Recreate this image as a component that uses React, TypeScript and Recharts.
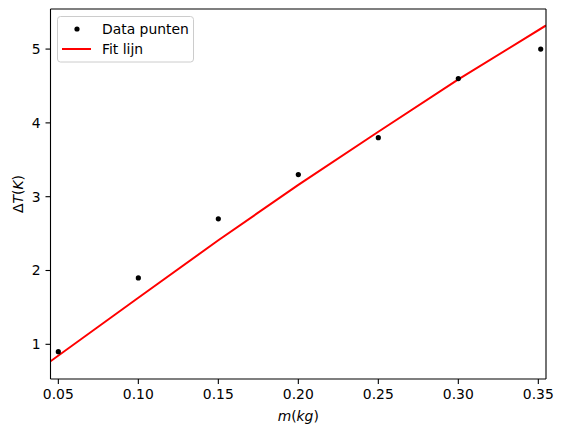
import React from "react";
import {
  ComposedChart,
  Legend,
  Line,
  ReferenceLine,
  Scatter,
  XAxis,
  YAxis,
} from "recharts";

// meetpunten
const massKg = [0.05, 0.1, 0.15, 0.2, 0.25, 0.3, 0.3515];
const deltaT = [0.9, 1.9, 2.7, 3.3, 3.8, 4.6, 5.0];

const fitMass = [0.0451, 0.1, 0.15, 0.2, 0.25, 0.3, 0.3548];
const fitDeltaT = [0.77, 1.63, 2.41, 3.16, 3.88, 4.59, 5.32];

const xTicks = [0.05, 0.1, 0.15, 0.2, 0.25, 0.3, 0.35];
const yTicks = [1, 2, 3, 4, 5];

const seriesNames = ["Data punten", "Fit lijn"];

const xDomain: [number, number] = [0.0451, 0.3548];
const yDomain: [number, number] = [0.53, 5.543];

const FONT = "'DejaVu Sans', sans-serif";

const points = massKg.map((x, i) => ({ x, y: deltaT[i] }));
const fit = fitMass.map((x, i) => ({ x, y: fitDeltaT[i] }));

const tickStyle = { fill: "#000", fontSize: 13.9, fontFamily: FONT };

function Dot(props: any) {
  return <circle cx={props.cx} cy={props.cy} r={2.6} fill="#000" />;
}

function LegendBox() {
  return (
    <svg width={137} height={47} style={{ display: "block" }}>
      <rect
        x={0.5}
        y={0.5}
        width={136}
        height={45.5}
        rx={3}
        fill="#fff"
        fillOpacity={0.8}
        stroke="#cccccc"
      />
      <circle cx={20} cy={13} r={2.6} fill="#000" />
      <text x={45} y={18.3} fontFamily={FONT} fontSize={13.9} fill="#000">
        {seriesNames[0]}
      </text>
      <line x1={5} y1={33} x2={34} y2={33} stroke="#ff0000" strokeWidth={2} />
      <text x={45} y={38.3} fontFamily={FONT} fontSize={13.9} fill="#000">
        {seriesNames[1]}
      </text>
    </svg>
  );
}

function XLabel(props: any) {
  const vb = props.viewBox || {};
  return (
    <text
      x={vb.x + vb.width / 2}
      y={vb.y + 42}
      textAnchor="middle"
      fontFamily={FONT}
      fontSize={13.9}
      fill="#000"
    >
      <tspan fontStyle="italic">m</tspan>
      <tspan>(</tspan>
      <tspan fontStyle="italic">kg</tspan>
      <tspan>)</tspan>
    </text>
  );
}

function YLabel(props: any) {
  const vb = props.viewBox || {};
  const cx = 18;
  const cy = vb.y + vb.height / 2;
  return (
    <text
      x={cx}
      y={cy}
      dy="0.36em"
      transform={`rotate(-90 ${cx} ${cy})`}
      textAnchor="middle"
      fontFamily={FONT}
      fontSize={13.9}
      fill="#000"
    >
      <tspan>Δ</tspan>
      <tspan fontStyle="italic">T</tspan>
      <tspan>(</tspan>
      <tspan fontStyle="italic">K</tspan>
      <tspan>)</tspan>
    </text>
  );
}

export default function App() {
  return (
    <div style={{ position: "absolute", left: 0, top: 0, background: "#fff" }}>
      <ComposedChart
        width={564}
        height={436}
        margin={{ top: 9, right: 18, bottom: 0, left: 0 }}
      >
        <XAxis
          dataKey="x"
          type="number"
          domain={xDomain}
          ticks={xTicks}
          allowDataOverflow
          height={57}
          tickFormatter={(v: number) => v.toFixed(2)}
          tick={tickStyle}
          tickSize={5}
          tickMargin={5}
          stroke="#000"
          axisLine={{ stroke: "#000", strokeWidth: 1.1 }}
          tickLine={{ stroke: "#000", strokeWidth: 1.1 }}
          label={<XLabel />}
        />
        <YAxis
          type="number"
          domain={yDomain}
          ticks={yTicks}
          allowDataOverflow
          width={50.5}
          tick={tickStyle}
          tickSize={5}
          tickMargin={5}
          stroke="#000"
          axisLine={{ stroke: "#000", strokeWidth: 1.1 }}
          tickLine={{ stroke: "#000", strokeWidth: 1.1 }}
          label={<YLabel />}
        />
        <Line
          data={fit}
          dataKey="y"
          name={seriesNames[1]}
          type="linear"
          stroke="#ff0000"
          strokeWidth={2}
          dot={false}
          activeDot={false}
          isAnimationActive={false}
        />
        <Scatter
          data={points}
          dataKey="y"
          name={seriesNames[0]}
          fill="#000"
          shape={<Dot />}
          isAnimationActive={false}
        />
        {/* bovenste en rechter rand van het kader */}
        <ReferenceLine y={yDomain[1]} stroke="#000" strokeWidth={1.1} ifOverflow="visible" />
        <ReferenceLine x={xDomain[1]} stroke="#000" strokeWidth={1.1} ifOverflow="visible" />
        <Legend
          layout="vertical"
          align="center"
          verticalAlign="middle"
          wrapperStyle={{ position: "absolute", left: 57, top: 16, width: 137, height: 47 }}
          content={() => <LegendBox />}
        />
      </ComposedChart>
    </div>
  );
}
